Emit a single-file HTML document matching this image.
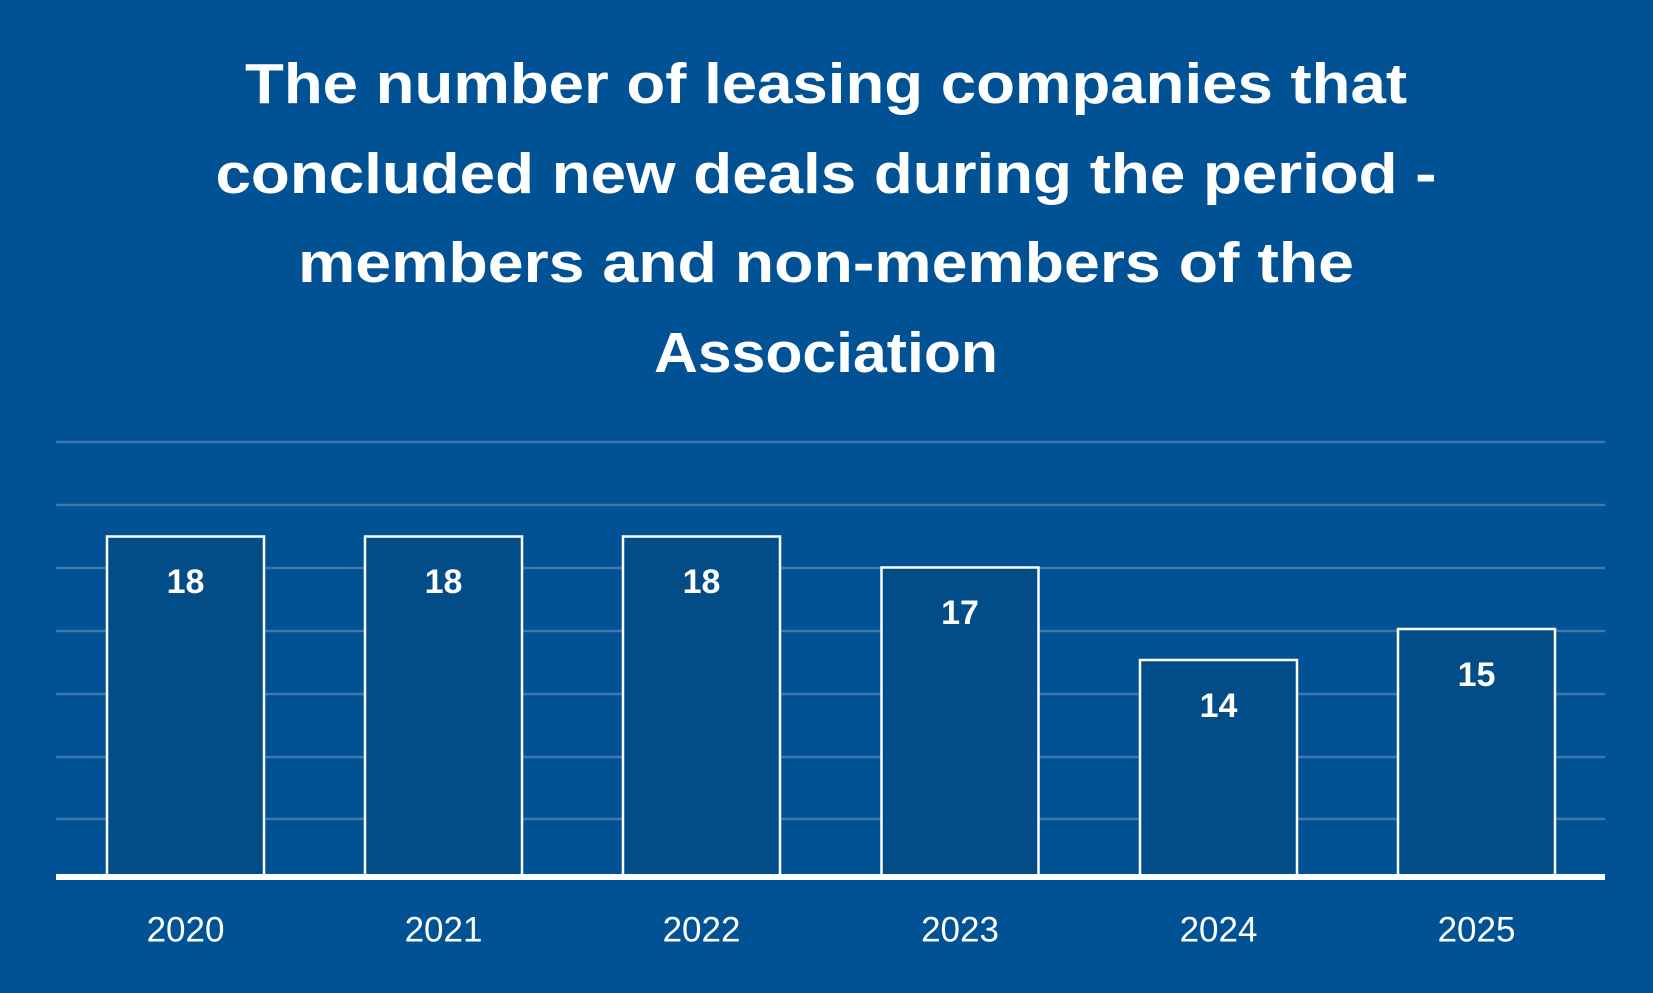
<!DOCTYPE html>
<html><head><meta charset="utf-8"><style>
html,body{margin:0;padding:0;background:#005094;}
svg{display:block}
</style></head><body>
<svg width="1653" height="993" viewBox="0 0 1653 993" xmlns="http://www.w3.org/2000/svg">
<rect width="1653" height="993" fill="#015195"/>
<g font-family="Liberation Sans, sans-serif" font-weight="bold" fill="#fff" font-size="57" text-anchor="middle" dominant-baseline="central">
<text x="826" y="84" textLength="1162" lengthAdjust="spacingAndGlyphs">The number of leasing companies that</text>
<text x="826" y="174" textLength="1221" lengthAdjust="spacingAndGlyphs">concluded new deals during the period -</text>
<text x="826" y="263" textLength="1056" lengthAdjust="spacingAndGlyphs">members and non-members of the</text>
<text x="826" y="353" textLength="344" lengthAdjust="spacingAndGlyphs">Association</text>
</g>
<g stroke="#3f78ad" stroke-width="2.5">
<line x1="56" x2="1605" y1="442" y2="442"/>
<line x1="56" x2="1605" y1="505" y2="505"/>
<line x1="56" x2="1605" y1="568" y2="568"/>
<line x1="56" x2="1605" y1="631" y2="631"/>
<line x1="56" x2="1605" y1="694" y2="694"/>
<line x1="56" x2="1605" y1="757" y2="757"/>
<line x1="56" x2="1605" y1="819" y2="819"/>
</g>
<g fill="#024c88" stroke="#fff" stroke-width="2.5">
<rect x="107" y="536.5" width="157" height="340"/>
<rect x="365" y="536.5" width="157" height="340"/>
<rect x="623" y="536.5" width="157" height="340"/>
<rect x="881.5" y="567.5" width="157" height="309"/>
<rect x="1140" y="660" width="157" height="216.5"/>
<rect x="1398" y="629" width="157" height="247.5"/>
</g>
<rect x="56" y="874" width="1549" height="6" fill="#fff"/>
<g font-family="Liberation Sans, sans-serif" font-weight="bold" fill="#fff" font-size="34" text-anchor="middle" dominant-baseline="central">
<text x="185.5" y="582">18</text>
<text x="443.5" y="582">18</text>
<text x="701.5" y="582">18</text>
<text x="960" y="613">17</text>
<text x="1218.5" y="706">14</text>
<text x="1476.5" y="675">15</text>
</g>
<g font-family="Liberation Sans, sans-serif" fill="#fff" font-size="35" text-anchor="middle" dominant-baseline="central">
<text x="185.5" y="930">2020</text>
<text x="443.5" y="930">2021</text>
<text x="701.5" y="930">2022</text>
<text x="960" y="930">2023</text>
<text x="1218.5" y="930">2024</text>
<text x="1476.5" y="930">2025</text>
</g>
</svg>
</body></html>
